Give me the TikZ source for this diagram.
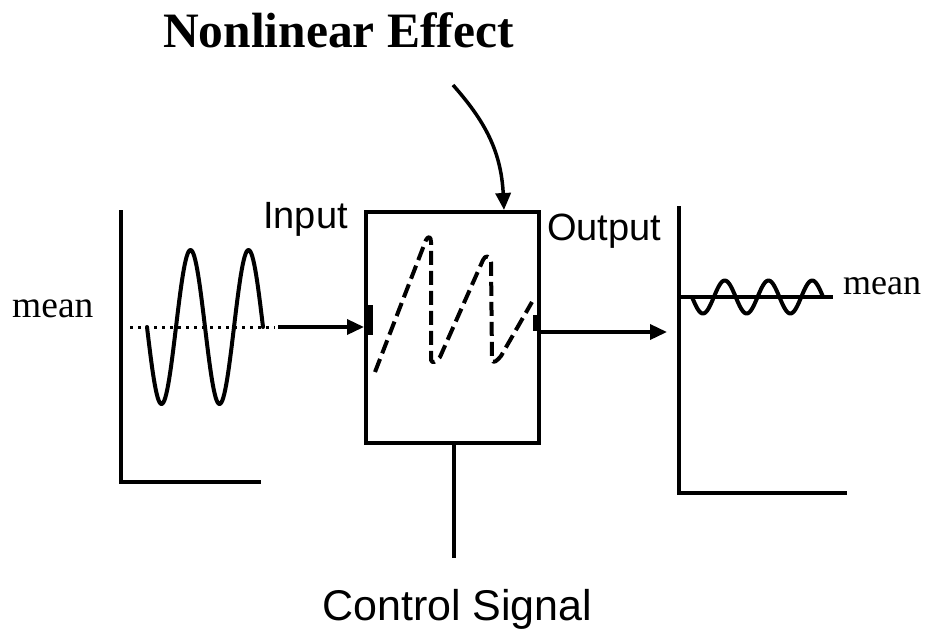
\documentclass[tikz,border=0pt]{standalone}
\usepackage{fontspec}
\setmainfont{Liberation Serif}
\newfontfamily\arialf{Liberation Sans}
\usetikzlibrary{arrows.meta}
\begin{document}
\begin{tikzpicture}[x=1pt,y=-1pt,
  thickline/.style={line width=4pt},
  arrowline/.style={line width=3.5pt,-{Triangle[length=17pt,width=15pt]}},
  wave/.style={line width=4pt,line join=round,line cap=round},
  dashwave/.style={line width=4pt,dash pattern=on 14pt off 6pt,line join=round},
  sanslabel/.style={font=\arialf\fontsize{38}{40}\selectfont,anchor=base west,inner sep=0pt},
  seriflabel/.style={font=\fontsize{36}{38}\selectfont,anchor=base west,inner sep=0pt},
  blackbox/.style={draw,line width=4pt,minimum width=173pt,minimum height=231pt,inner sep=0pt}
]
\useasboundingbox (0,0) rectangle (933,633);

% title
\node[font=\bfseries\fontsize{49.5}{52}\selectfont,anchor=base west,inner sep=0pt] (title) at (163,47) {Nonlinear Effect};

% box
\node[blackbox] (box) at (452.5,327.5) {};

% left axes
\coordinate (laTop) at (121,210);
\coordinate (laO) at (121,482);
\coordinate (laEnd) at (261,482);
\draw[thickline] (laTop) -- (laO) -- (laEnd);

% input wave and mean
\draw[line width=3pt,dash pattern=on 3pt off 5pt] (130,327) -- (275,327);
\draw[wave] plot[variable=\t,domain=0:720,samples=121] ({147+0.161111*\t},{327+77*sin(\t)});
\node[seriflabel,font=\fontsize{37.5}{40}\selectfont] (meanL) at (12,317) {mean};

% input arrow
\coordinate (inS) at (278,327);
\draw[arrowline] (inS) -- (box.west |- inS);
\node[sanslabel] (inputlbl) at (263,228) {Input};

% box edge ticks
\fill (367,305) rectangle (373,335);
\fill (533,315) rectangle (539,331);

% dashed sawtooth
\draw[dashwave] (375,372) -- (426,240) .. controls (428,236) and (431,236) .. (431,242)
  -- (431,360) .. controls (432,364) and (436,362) .. (440,357)
  -- (483,260) .. controls (485,255) and (490,255) .. (491,262)
  -- (492,360) .. controls (493,364) and (497,361) .. (501,356) -- (532,302);

% nonlinear effect arrow
\coordinate (nlS) at (453,85);
\coordinate (nlX) at (504,0);
\draw[line width=3.5pt,-{Triangle[length=17pt,width=15pt]}] (nlS) .. controls (482,118) and (501,148) .. (box.north -| nlX);

% output
\coordinate (outE) at (667,332);
\draw[arrowline] (box.east |- outE) -- (outE);
\node[sanslabel] (outputlbl) at (547,240) {Output};

% right axes
\coordinate (raTop) at (679,206);
\coordinate (raO) at (679,493);
\coordinate (raEnd) at (847,493);
\draw[thickline] (raTop) -- (raO) -- (raEnd);
\coordinate (rmE) at (833,297);
\draw[thickline] (raO |- rmE) -- (rmE);
\draw[wave] plot[variable=\t,domain=0:1080,samples=151] ({692+0.121389*\t},{297+16.5*sin(\t)});
\node[seriflabel] (meanR) at (843,294) {mean};

% control signal
\coordinate (ctlE) at (454,558);
\draw[line width=3.5pt] (box.south -| ctlE) -- (ctlE);
\node[font=\arialf\fontsize{43}{45}\selectfont,anchor=base west,inner sep=0pt] (ctl) at (322,620) {Control Signal};
\end{tikzpicture}
\end{document}
